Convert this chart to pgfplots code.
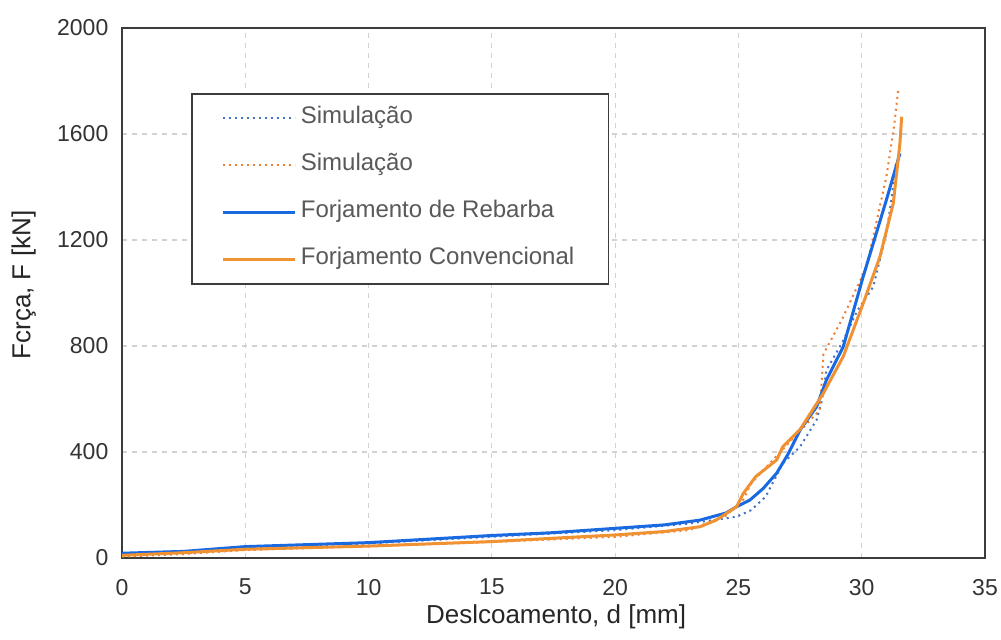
\documentclass[border=0pt]{standalone}
\usepackage{fontspec}
\setmainfont{Liberation Sans}
\usepackage{pgfplots}
\pgfplotsset{compat=1.18}
\definecolor{bsol}{RGB}{25,105,225}
\definecolor{osol}{RGB}{240,145,50}
\definecolor{bdot}{RGB}{68,114,196}
\definecolor{odot}{RGB}{237,125,49}
\definecolor{gridc}{RGB}{210,210,210}
\definecolor{framec}{RGB}{60,60,60}
\begin{document}
\begin{tikzpicture}
\path[use as bounding box] (-61pt,-40.5pt) rectangle (439.5pt,279pt);
\begin{axis}[
  at={(0pt,0pt)}, anchor=south west,
  width=431.5pt, height=265pt, scale only axis,
  xmin=0, xmax=35, ymin=0, ymax=2000,
  xtick={0,5,...,35}, ytick={0,400,...,2000},
  grid=major,
  major grid style={gridc, dash pattern=on 2.5pt off 2.5pt, line width=0.6pt},
  axis line style={framec, line width=1pt},
  major tick length=0pt,
  /pgf/number format/assume math mode=true,
  /pgf/number format/1000 sep={},
  tick label style={font=\fontsize{11.5}{13}\selectfont, text=black!80},
  xticklabel style={yshift=-7pt},
  yticklabel style={xshift=-3.3pt},
  every axis x label/.style={at={(axis description cs:0.503,-0.11)}, anchor=center, font=\fontsize{13}{15}\selectfont, text=black!85},
  every axis y label/.style={at={(axis description cs:-0.114,0.515)}, anchor=center, rotate=90, font=\fontsize{13}{15}\selectfont, text=black!85},
  xlabel={Deslcoamento, d [mm]},
  ylabel={Fcrça, F [kN]},
  legend cell align=left,
  legend image code/.code={\draw[#1] (0pt,0pt) -- (36pt,0pt);},
  legend style={at={(axis description cs:0.080,0.877)}, anchor=north west,
    draw=framec, line width=0.8pt, inner xsep=15pt, inner ysep=7pt,
    row sep=13pt,
    font=\fontsize{12}{14}\selectfont, text=black!65,
    nodes={text height=8pt, text depth=2.5pt, inner ysep=0pt, inner xsep=2pt}},
]
\addplot[bdot, line width=1pt, dash pattern=on 1pt off 2pt] coordinates {
(0,15) (2.5,22) (5,40) (10,55) (15,80) (20,105) (23,130) (24.5,150) (24.93,156)
(25.5,180) (26.1,231) (26.8,357) (27.5,420) (28.17,521) (28.4,600) (28.57,709)
(29.25,820) (29.8,930) (30.47,1024) (31.0,1225) (31.2,1350) (31.4,1500)
};
\addlegendentry{Simulação}
\addplot[odot, line width=1pt, dash pattern=on 1pt off 2pt] coordinates {
(0,5) (2.5,15) (5,30) (10,45) (15,60) (20,80) (23,105) (24.5,160) (25.2,220)
(25.5,280) (26.5,380) (27.5,480) (28.3,558) (28.45,770) (29.2,900) (30.2,1100)
(31.0,1439) (31.3,1620) (31.48,1766)
};
\addlegendentry{Simulação}
\addplot[bsol, line width=1.5pt] coordinates {
(0,18) (2.5,25) (5,43) (10,58) (15,85) (17.36,95) (20,112) (22,125) (23.44,143)
(24.5,170) (24.93,194) (25.47,219) (26,262) (26.55,320) (27,390) (27.5,483) (28.17,571)
(28.57,672) (29.25,797) (30.06,1062) (31.0,1351) (31.55,1527)
};
\addlegendentry{Forjamento de Rebarba}
\addplot[osol, line width=1.5pt] coordinates {
(0,10) (2.5,20) (5,33) (10,45) (15,62) (17.36,74) (20,87) (22,100) (23.44,118)
(24.1,143) (24.93,194) (25.2,244) (25.7,307) (26.55,370) (26.8,420) (27.5,485)
(28.44,621) (29.25,760) (30.06,961) (30.74,1137) (31.28,1338) (31.55,1565) (31.62,1665)
};
\addlegendentry{Forjamento Convencional}
\end{axis}
\end{tikzpicture}
\end{document}
